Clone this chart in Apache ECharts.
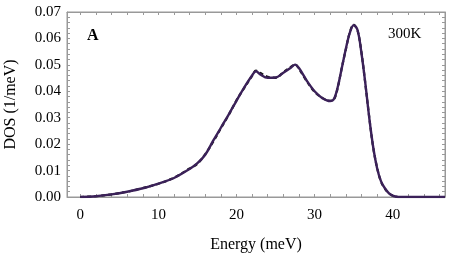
<!DOCTYPE html>
<html><head><meta charset="utf-8">
<script src="https://cdn.jsdelivr.net/npm/echarts@6/dist/echarts.min.js"></script>
<style>html,body{margin:0;padding:0;background:#fff}#c{width:456px;height:257px}</style>
</head><body><div id="c"></div>
<script>
const energy = [0,2,4,6,8,10,12,14,15,16,17,18,19,20,21,22,22.5,23,24,25,26,27,27.5,28,29,30,31,32,32.5,33,33.5,34,34.5,35,35.5,36,36.5,37,37.5,38,38.5,39,39.5,40,40.5,41,42,44,46.7];
const dosFit = [0.0000,0.0003,0.0010,0.0020,0.0033,0.0051,0.0072,0.0106,0.0128,0.0160,0.0212,0.0262,0.0312,0.0364,0.0415,0.0460,0.0476,0.0465,0.0451,0.0452,0.0470,0.0490,0.0501,0.0488,0.0440,0.0400,0.0374,0.0363,0.0372,0.0420,0.0490,0.0560,0.0620,0.0650,0.0632,0.0545,0.0430,0.0300,0.0190,0.0110,0.0060,0.0033,0.0015,0.0005,0.0001,0.0000,0.0000,0.0000,0.0000];
const dosData = [0.0000,0.0003,0.0010,0.0020,0.0034,0.0050,0.0073,0.0108,0.0126,0.0162,0.0208,0.0260,0.0310,0.0366,0.0413,0.0458,0.0478,0.0470,0.0455,0.0451,0.0472,0.0493,0.0502,0.0485,0.0438,0.0398,0.0375,0.0364,0.0370,0.0418,0.0492,0.0558,0.0622,0.0652,0.0630,0.0548,0.0428,0.0302,0.0188,0.0112,0.0058,0.0032,0.0014,0.0005,0.0001,0.0000,0.0000,0.0000,0.0000];
const xTicks = [0,2,4,6,8,10,12,14,16,18,20,22,24,26,28,30,32,34,36,38,40,42,44,46];
const xLabels = [0,10,20,30,40];
const yTicks = [0,0.002,0.004,0.006,0.008,0.01,0.012,0.014,0.016,0.018,0.02,0.022,0.024,0.026,0.028,0.03,0.032,0.034,0.036,0.038,0.04,0.042,0.044,0.046,0.048,0.05,0.052,0.054,0.056,0.058,0.06,0.062,0.064,0.066,0.068,0.07];
const yLabels = [0,0.01,0.02,0.03,0.04,0.05,0.06,0.07];
const xMin = -1.7, xMax = 46.7;
const yMax = 0.07;

const font = 'Liberation Serif';
const axisCol = '#999999';
function xAx(pos, labels){
  return {type:'value', position:pos, min:xMin, max:xMax,
    axisLine:{show:true, onZero:false, lineStyle:{color:axisCol, width:1}},
    axisTick:{show:true, inside:true, length:3, customValues:xTicks, lineStyle:{color:axisCol, width:1}},
    axisLabel:{show:labels, customValues:xLabels, margin:11, color:'#000', fontFamily:font, fontSize:15},
    splitLine:{show:false}};
}
function yAx(pos, labels){
  return {type:'value', position:pos, min:0, max:yMax,
    axisLine:{show:true, onZero:false, lineStyle:{color:axisCol, width:1}},
    axisTick:{show:true, inside:true, length:3, customValues:yTicks, lineStyle:{color:axisCol, width:1}},
    axisLabel:{show:labels, customValues:yLabels, margin:6, color:'#000', fontFamily:font, fontSize:15, formatter:v=>v.toFixed(2)},
    splitLine:{show:false}};
}
const chart = echarts.init(document.getElementById('c'));
chart.setOption({
  animation:false,
  title:[
    {text:'A', left:87, top:28, padding:0, textStyle:{fontFamily:font, fontWeight:'bold', fontSize:16, color:'#000'}},
    {text:'300K', left:388, top:27, padding:0, textStyle:{fontFamily:font, fontWeight:'normal', fontSize:15, color:'#000'}}
  ],
  grid:{left:67, right:11, top:12, bottom:60, containLabel:false, outerBoundsMode:'none',
        show:true, borderColor:axisCol, borderWidth:1},
  xAxis:[
    Object.assign(xAx('bottom', true), {name:'Energy (meV)', nameLocation:'middle', nameGap:40,
      nameTextStyle:{fontFamily:font, fontSize:16, color:'#000'}}),
    xAx('top', false)
  ],
  yAxis:[
    Object.assign(yAx('left', true), {name:'DOS (1/meV)', nameLocation:'middle', nameGap:48, nameRotate:90,
      nameTextStyle:{fontFamily:font, fontSize:16, color:'#000'}}),
    yAx('right', false)
  ],
  series:[
    {type:'line', name:'data', data:energy.map((e,i)=>[e,dosData[i]]),
     showSymbol:false, smooth:0.35, lineStyle:{color:'#111', width:2.2, type:[4,3]}, z:2},
    {type:'line', name:'fit', data:energy.map((e,i)=>[e,dosFit[i]]),
     showSymbol:false, smooth:0.35, lineStyle:{color:'#3b2159', width:2.4}, z:3}
  ]
});
</script></body></html>
